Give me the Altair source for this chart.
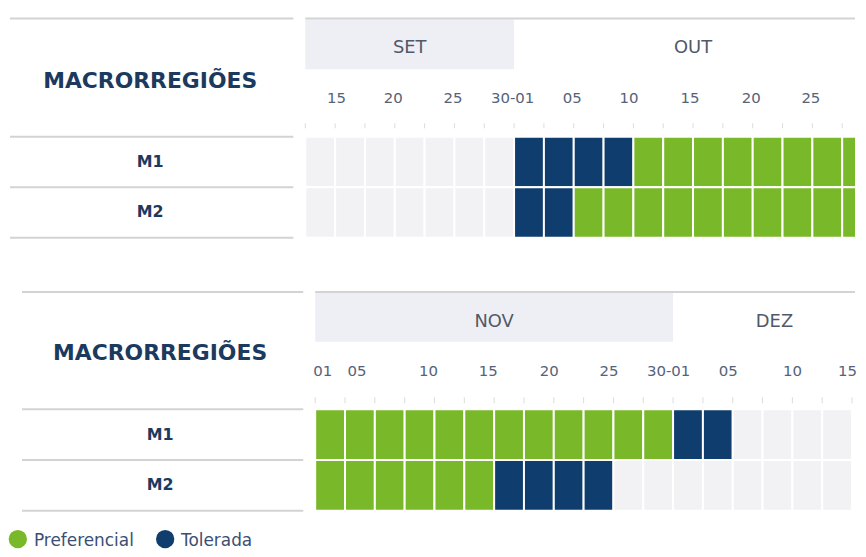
import altair as alt
import pandas as pd

# ---------------- data ----------------
ROWS = ["M1", "M2"]
STATUS_CODES = ["-", "T", "P"]          # sem janela, Tolerada, Preferencial
STATUS_COLORS = ["#f2f2f4", "#0f3d6e", "#79b829"]

# Top block (SET / OUT) - one code per cell
TOP_M1 = "-------TTTTPPPPPPPP"
TOP_M2 = "-------TTPPPPPPPPPP"
TOP_MONTHS = ["SET", "OUT"]
TOP_MONTH_START = [0, 7]
TOP_MONTH_END = [7, 19]
TOP_MONTH_SHADED = [True, False]
TOP_MONTH_LABEL_POS = [3.5, 13.0]
TOP_DAY_LABELS = ["15", "20", "25", "30-01", "05", "10", "15", "20", "25"]
TOP_DAY_POS = [1.05, 2.95, 4.95, 6.95, 8.95, 10.85, 12.9, 14.95, 16.95]

# Bottom block (NOV / DEZ)
BOT_M1 = "PPPPPPPPPPPPTT----"
BOT_M2 = "PPPPPPTTTT--------"
BOT_MONTHS = ["NOV", "DEZ"]
BOT_MONTH_START = [0, 12]
BOT_MONTH_END = [12, 19]
BOT_MONTH_SHADED = [True, False]
BOT_MONTH_LABEL_POS = [6.0, 15.4]
BOT_DAY_LABELS = ["01", "05", "10", "15", "20", "25", "30-01", "05", "10", "15"]
BOT_DAY_POS = [0.25, 1.4, 3.8, 5.8, 7.85, 9.85, 11.85, 13.85, 16.0, 17.85]

LEGEND_LABELS = ["Preferencial", "Tolerada"]
LEGEND_CODES = ["P", "T"]

FONT = "DejaVu Sans"
W = 850


def panel(rows_codes, months, m_start, m_end, m_shaded, m_pos, day_labels, day_pos,
          xdom, ydom, height, left_x, band_y, header_y, month_y, day_y, tick_y, legend=None):
    xs = alt.Scale(domain=list(xdom), nice=False, zero=False)
    ys = alt.Scale(domain=list(ydom), nice=False, zero=False, reverse=True)
    X = lambda f: alt.X(f, type="quantitative", scale=xs, axis=None)
    Y = lambda f: alt.Y(f, type="quantitative", scale=ys, axis=None)

    cells = []
    for r, codes in enumerate(rows_codes):
        for i, c in enumerate(codes):
            cells.append({"x": i, "x2": i + 1, "y": r, "y2": r + 1, "status": c})
    cells = pd.DataFrame(cells)

    mdf = pd.DataFrame({"m": months, "s": m_start, "e": m_end, "shade": m_shaded, "pos": m_pos})
    band = alt.Chart(mdf[mdf.shade]).mark_rect(color="#eeeff4", clip=True).encode(
        x=X("s"), x2="e", y=alt.Y("y1:Q", scale=ys, axis=None), y2="y2:Q"
    ).transform_calculate(y1=str(band_y[0]), y2=str(band_y[1]))
    mtext = alt.Chart(mdf).mark_text(font=FONT, fontSize=18, color="#515968", baseline="middle").encode(
        x=X("pos"), y=alt.Y("yy:Q", scale=ys, axis=None), text="m:N"
    ).transform_calculate(yy=str(month_y))

    lines = pd.DataFrame({
        "x": [left_x[0]] * 4 + [0],
        "x2": [left_x[1]] * 4 + [xdom[1]],
        "y": [header_y, 0, 1, 2, header_y],
    })
    rules = alt.Chart(lines).mark_rule(color="#d3d3d6", strokeWidth=2).encode(
        x=X("x"), x2="x2", y=Y("y")
    )

    ddf = pd.DataFrame({"t": day_labels, "x": day_pos})
    dtext = alt.Chart(ddf).mark_text(font=FONT, fontSize=15, color="#55637a", baseline="middle").encode(
        x=X("x"), y=alt.Y("yy:Q", scale=ys, axis=None), text="t:N"
    ).transform_calculate(yy=str(day_y))

    ncell = max(len(c) for c in rows_codes)
    tdf = pd.DataFrame({"x": list(range(ncell + 1))})
    ticks = alt.Chart(tdf).mark_rule(color="#dcdcdc", strokeWidth=1, clip=True).encode(
        x=X("x"), y=alt.Y("a:Q", scale=ys, axis=None), y2="b:Q"
    ).transform_calculate(a=str(tick_y[0]), b=str(tick_y[1]))

    rects = alt.Chart(cells).mark_rect(stroke="white", strokeWidth=2, clip=True).encode(
        x=X("x"), x2="x2", y=Y("y"), y2="y2",
        color=alt.Color("status:N", scale=alt.Scale(domain=STATUS_CODES, range=STATUS_COLORS), legend=None),
    )

    ldf = pd.DataFrame({"t": ["MACRORREGIÕES"] + ROWS, "y": [-1.1, 0.5, 1.5],
                        "size": [22, 16, 16]})
    ltext = alt.Chart(ldf).mark_text(font=FONT, fontWeight="bold", color="#1c3a5e", baseline="middle").encode(
        x=alt.X("xx:Q", scale=xs, axis=None), y=Y("y"), text="t:N",
        size=alt.Size("size:Q", scale=None, legend=None)
    ).transform_calculate(xx=str(-5.2))

    layers = [band, rules, mtext, dtext, ticks, rects, ltext]

    if legend:
        gdf = pd.DataFrame({"label": LEGEND_LABELS, "status": LEGEND_CODES,
                            "cx": [-9.97, -5.03], "tx": [-9.43, -4.5]})
        dots = alt.Chart(gdf).mark_point(filled=True, shape="circle", size=340, opacity=1).encode(
            x=X("cx"), y=alt.Y("yy:Q", scale=ys, axis=None),
            color=alt.Color("status:N", scale=alt.Scale(domain=STATUS_CODES, range=STATUS_COLORS), legend=None),
        ).transform_calculate(yy=str(legend[0]))
        gtext = alt.Chart(gdf).mark_text(font=FONT, fontSize=17, color="#3a4f73", align="left",
                                         baseline="alphabetic").encode(
            x=X("tx"), y=alt.Y("yy:Q", scale=ys, axis=None), text="label:N"
        ).transform_calculate(yy=str(legend[1]))
        layers += [dots, gtext]

    return alt.layer(*layers).properties(width=W, height=height)


top = panel([TOP_M1, TOP_M2], TOP_MONTHS, TOP_MONTH_START, TOP_MONTH_END, TOP_MONTH_SHADED,
            TOP_MONTH_LABEL_POS, TOP_DAY_LABELS, TOP_DAY_POS,
            xdom=(-9.9, 18.43), ydom=(-2.525, 2.643), height=262,
            left_x=(-9.9, -0.4), band_y=(-2.327, -1.341), header_y=-2.347,
            month_y=-1.755, day_y=-0.77, tick_y=(-0.27, -0.17))

bottom = panel([BOT_M1, BOT_M2], BOT_MONTHS, BOT_MONTH_START, BOT_MONTH_END, BOT_MONTH_SHADED,
               BOT_MONTH_LABEL_POS, BOT_DAY_LABELS, BOT_DAY_POS,
               xdom=(-10.233, 18.1), ydom=(-2.745, 2.725), height=279,
               left_x=(-9.83, -0.4), band_y=(-2.294, -1.333), header_y=-2.314,
               month_y=-1.725, day_y=-0.745, tick_y=(-0.235, -0.118), legend=(2.56, 2.69))

chart = alt.vconcat(top, bottom, spacing=0).properties(padding=0).configure_view(stroke=None)

chart.save("out.html", embed_options={"renderer": "svg", "actions": False})
